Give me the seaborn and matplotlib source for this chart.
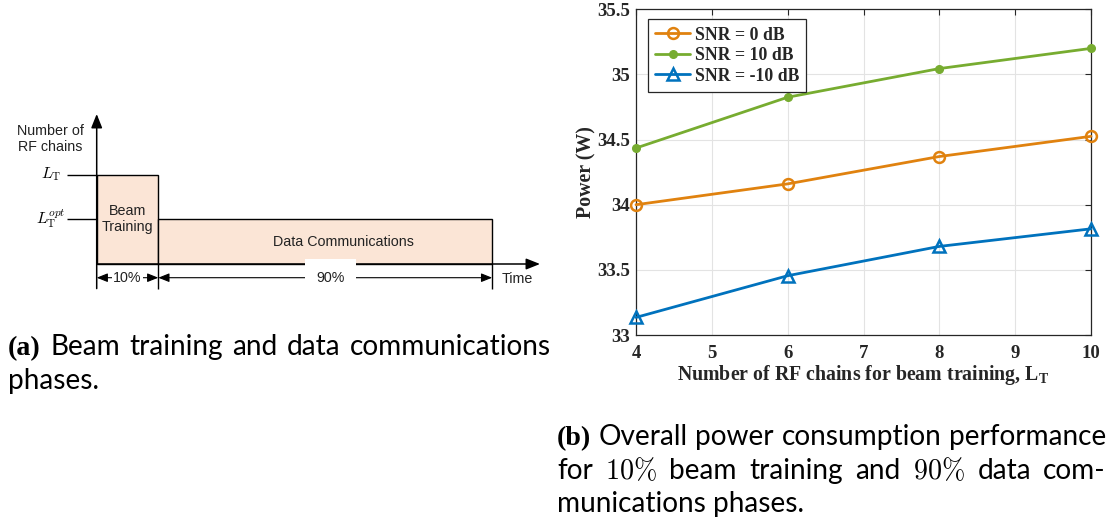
import numpy as np
import pandas as pd
import matplotlib
matplotlib.use("Agg")
import matplotlib.pyplot as plt
from matplotlib.transforms import IdentityTransform
from matplotlib.font_manager import FontProperties
import seaborn as sns

# ---------------- data (right panel) ----------------
rf_chains = [4, 6, 8, 10]
power_snr_0 = [34.00, 34.16, 34.37, 34.525]
power_snr_10 = [34.435, 34.825, 35.045, 35.20]
power_snr_m10 = [33.135, 33.455, 33.68, 33.815]
series_labels = ["SNR = 0 dB", "SNR = 10 dB", "SNR = -10 dB"]
x_ticks = [4, 5, 6, 7, 8, 9, 10]
y_ticks = [33.0, 33.5, 34.0, 34.5, 35.0, 35.5]
y_tick_labels = ["33", "33.5", "34", "34.5", "35", "35.5"]
x_label = r"Number of RF chains for beam training, $\mathbf{L_T}$"
y_label = "Power (W)"

# ---------------- data (left schematic) ----------------
phase_names = ["Beam\nTraining", "Data Communications"]
phase_shares = ["10%", "90%"]
phase_widths = [1.0, 5.42]          # schematic drawing widths
phase_levels = [2.0, 1.0]           # L_T and L_T^opt (schematic)
level_labels = [r"$L_{\mathrm{T}}$", r"$L_{\mathrm{T}}^{opt}$"]
y_axis_title = "Number of\nRF chains"
x_axis_title = "Time"

# ---------------- captions ----------------
caption_a = ["(a) Beam training and data communications", "phases."]
caption_b = ["(b) Overall power consumption performance",
             "for 10% beam training and 90% data com-",
             "munications phases."]

# ---------------- style ----------------
sns.set_theme(style="white")
plt.rcParams["mathtext.fontset"] = "custom"
plt.rcParams["mathtext.rm"] = "Liberation Serif"
plt.rcParams["mathtext.it"] = "Liberation Serif:italic"
plt.rcParams["mathtext.bf"] = "Liberation Serif:bold"
plt.rcParams["font.family"] = ["Liberation Sans", "DejaVu Sans"]

W, H, DPI = 1114, 525, 100
fig = plt.figure(figsize=(W / DPI, H / DPI), dpi=DPI, facecolor="white")

C_ORANGE = "#E0820F"
C_GREEN = "#77AC30"
C_BLUE = "#0072BD"
C_AX = "#262626"
SERIF = "Liberation Serif"
SANS = "Liberation Sans"

# ================= right panel: line chart =================
ax = fig.add_axes([636 / W, 1 - 335 / H, (1091 - 636) / W, (335 - 9.3) / H])
styles = [
    dict(color=C_ORANGE, marker="o", ms=7.8, mfc="none", mec=C_ORANGE, mew=1.8),
    dict(color=C_GREEN, marker="o", ms=5.5, mfc=C_GREEN, mec=C_GREEN, mew=1.0),
    dict(color=C_BLUE, marker="^", ms=8.8, mfc="none", mec=C_BLUE, mew=1.8),
]
for vals, lab, st in zip([power_snr_0, power_snr_10, power_snr_m10], series_labels, styles):
    sns.lineplot(x=rf_chains, y=vals, ax=ax, label=lab, lw=2.0, clip_on=False,
                 zorder=3, **st)

ax.set_xlim(min(x_ticks), max(x_ticks))
ax.set_ylim(min(y_ticks), max(y_ticks))
ax.set_xticks(x_ticks)
ax.set_xticklabels([str(v) for v in x_ticks])
ax.set_yticks(y_ticks)
ax.set_yticklabels(y_tick_labels)
ax.grid(True, color="#E3E3E3", lw=0.8, zorder=0)
ax.set_axisbelow(True)
for sp in ax.spines.values():
    sp.set_visible(True)
    sp.set_color(C_AX)
    sp.set_linewidth(0.9)
ax.tick_params(axis="both", direction="in", top=True, right=True, length=4,
               width=0.8, color=C_AX, labelcolor=C_AX)
ax.tick_params(axis="x", pad=7)
ax.tick_params(axis="y", pad=4)
for t in ax.get_xticklabels() + ax.get_yticklabels():
    t.set_fontfamily(SERIF)
    t.set_fontweight("bold")
    t.set_fontsize(13.5)
ax.set_xlabel(x_label, fontfamily=SERIF, fontweight="bold", fontsize=14.3,
              color=C_AX, labelpad=1)
ax.set_ylabel(y_label, fontfamily=SERIF, fontweight="bold", fontsize=14.3,
              color=C_AX, labelpad=1)
leg = ax.legend(loc="upper left", bbox_to_anchor=(0.026, 0.969), borderaxespad=0,
                frameon=True, fancybox=False, edgecolor=C_AX, framealpha=1,
                prop=FontProperties(family=SERIF, weight="bold", size=12.8),
                handlelength=2.0, labelspacing=0.2, handletextpad=0.25,
                borderpad=0.4)
leg.get_frame().set_linewidth(0.9)
for txt in leg.get_texts():
    txt.set_color(C_AX)

# ================= left panel: schematic =================
axd = fig.add_axes([0, 1 - 300 / H, 560 / W, 200 / H])
ux, uy = 61.6, 44.7            # pixels per schematic unit
x0p, y0p = 96.7, 264.0         # origin position in pixels
axd.set_xlim(-x0p / ux, (560 - x0p) / ux)
axd.set_ylim(-(300 - y0p) / uy, (y0p - 100) / uy)
axd.axis("off")

starts = np.concatenate([[0.0], np.cumsum(phase_widths)[:-1]])
ends = starts + np.array(phase_widths)
axd.bar(starts, phase_levels, width=phase_widths, align="edge",
        color="#FBE5D6", edgecolor="black", linewidth=1.0, zorder=2)

y_bottom = -0.55
y_tip = (y0p - 114) / uy
x_tip = (540 - x0p) / ux
arrow_kw = dict(arrowstyle="-|>,head_length=0.7,head_width=0.28", color="black",
                lw=1.1, shrinkA=0, shrinkB=0)
axd.annotate("", xy=(0, y_tip), xytext=(0, y_bottom), arrowprops=arrow_kw, zorder=4)
axd.annotate("", xy=(x_tip, 0), xytext=(0, 0), arrowprops=arrow_kw, zorder=4)
axd.vlines(ends, y_bottom, 0, color="black", lw=1.0, zorder=3)
axd.hlines(phase_levels, -0.49, 0, color="black", lw=1.0, zorder=3)

for lev, lab in zip(phase_levels, level_labels):
    axd.text(-0.74, lev + 0.02, lab, ha="center", va="center", fontsize=11.5,
             math_fontfamily="cm", color="black")

axd.text(-0.75, 2.80, y_axis_title, ha="center", va="center", fontsize=10.3,
         fontfamily=SANS, color="#222222")

label_offsets = [0.0, 0.29]
label_y = [1.01, 0.5]
for s, e, name, off, ly in zip(starts, ends, phase_names, label_offsets, label_y):
    axd.text((s + e) / 2 + off, ly, name, ha="center", va="center", fontsize=10.3,
             fontfamily=SANS, color="#222222", zorder=5, linespacing=1.15)

y_dim = -(277.7 - y0p) / uy
dim_kw = dict(arrowstyle="<|-|>,head_length=0.55,head_width=0.22", color="black",
              lw=0.8, shrinkA=0, shrinkB=0)
share_offsets = [0.0, 0.08]
share_pads = [0.1, 0.8]
for s, e, share, off, pd_ in zip(starts, ends, phase_shares, share_offsets, share_pads):
    axd.annotate("", xy=(e, y_dim), xytext=(s, y_dim), arrowprops=dim_kw, zorder=3)
    axd.text((s + e) / 2 + off, y_dim, share, ha="center", va="center", fontsize=10.3,
             fontfamily=SANS, color="#222222", zorder=5,
             bbox=dict(boxstyle="square,pad=%.2f" % pd_, fc="white", ec="none"))

axd.text((517 - x0p) / ux, -(279.3 - y0p) / uy, x_axis_title, ha="center",
         va="center", fontsize=10.3, fontfamily=SANS, color="#222222")

# ================= captions =================
CAP_FONT = "Lato"
CAP_SIZE = 20.2
fig.canvas.draw()
renderer = fig.canvas.get_renderer()


def make_word(w, size):
    common = dict(fontsize=size, transform=IdentityTransform(), ha="left",
                  va="baseline", color="black")
    if w.startswith("(") and w.endswith(")"):
        return fig.text(0, 0, w, fontfamily=SERIF, fontweight="bold", **common)
    if w.endswith("%") and w[:-1].isdigit():
        return fig.text(0, 0, r"$%s\%%$" % w[:-1], math_fontfamily="cm", **common)
    return fig.text(0, 0, w, fontfamily=CAP_FONT, **common)


def place_caption(lines, xa, xb, baselines, size):
    space = 0.25 * size * DPI / 72
    for li, (line, yb) in enumerate(zip(lines, baselines)):
        words = line.split()
        txts = [make_word(w, size) for w in words]
        widths = [t.get_window_extent(renderer).width for t in txts]
        if li < len(lines) - 1 and len(words) > 1:
            gap = (xb - xa - sum(widths)) / (len(words) - 1)
        else:
            gap = space
        x = xa
        for t, wd in zip(txts, widths):
            t.set_position((x, H - yb))
            x += wd + gap


place_caption(caption_a, 8, 551, [355, 389], CAP_SIZE)
place_caption(caption_b, 557, 1106, [445, 479, 512], CAP_SIZE)

fig.savefig("out.png", dpi=DPI, facecolor="white")
